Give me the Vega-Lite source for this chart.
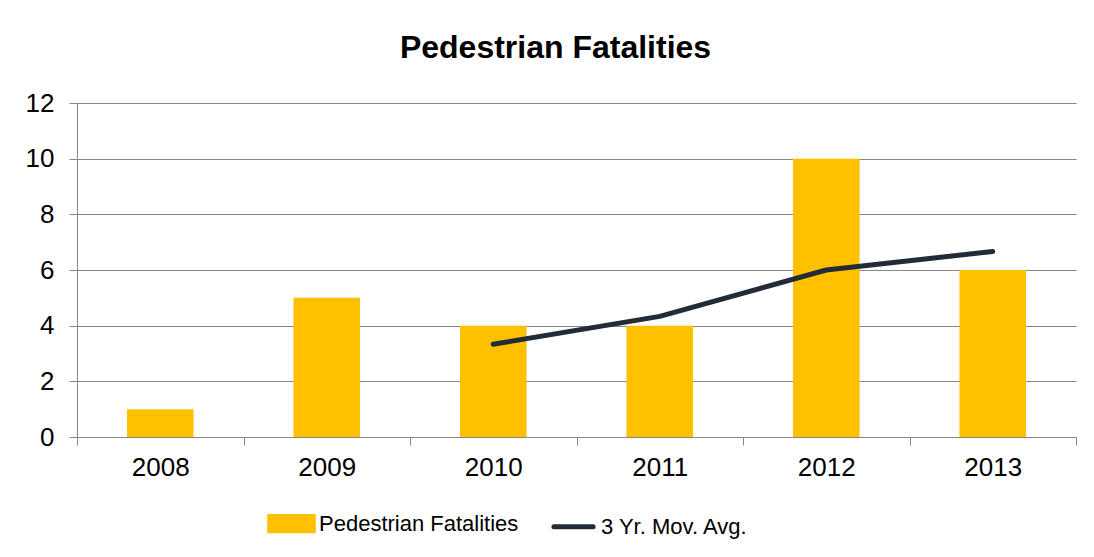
{
  "$schema": "https://vega.github.io/schema/vega-lite/v6.json",
  "autosize": {"type": "none"},
  "width": 999,
  "height": 334,
  "padding": {"left": 77, "top": 103, "right": 18, "bottom": 120},
  "background": "white",
  "config": {
    "font": "Liberation Sans",
    "view": {"stroke": null}
  },
  "title": {
    "text": "Pedestrian Fatalities",
    "fontSize": 32,
    "fontWeight": "bold",
    "color": "#000000",
    "anchor": "middle",
    "frame": "group",
    "dx": -21,
    "offset": 25
  },
  "data": {
    "values": [
      {"year": "2008", "series": "Pedestrian Fatalities", "value": 1},
      {"year": "2009", "series": "Pedestrian Fatalities", "value": 5},
      {"year": "2010", "series": "Pedestrian Fatalities", "value": 4},
      {"year": "2011", "series": "Pedestrian Fatalities", "value": 4},
      {"year": "2012", "series": "Pedestrian Fatalities", "value": 10},
      {"year": "2013", "series": "Pedestrian Fatalities", "value": 6},
      {"year": "2010", "series": "3 Yr. Mov. Avg.", "value": 3.333},
      {"year": "2011", "series": "3 Yr. Mov. Avg.", "value": 4.333},
      {"year": "2012", "series": "3 Yr. Mov. Avg.", "value": 6},
      {"year": "2013", "series": "3 Yr. Mov. Avg.", "value": 6.667}
    ]
  },
  "encoding": {
    "x": {
      "field": "year",
      "type": "ordinal",
      "scale": {"paddingInner": 0, "paddingOuter": 0, "domain": ["2008", "2009", "2010", "2011", "2012", "2013"]},
      "axis": {
        "title": null,
        "labelAngle": 0,
        "labelFontSize": 26,
        "labelColor": "#000000",
        "labelPadding": 9,
        "tickBand": "extent",
        "tickSize": 8,
        "tickColor": "#868686",
        "domainColor": "#868686",
        "grid": false
      }
    },
    "y": {
      "field": "value",
      "type": "quantitative",
      "scale": {"domain": [0, 12], "nice": false},
      "axis": {
        "title": null,
        "values": [0, 2, 4, 6, 8, 10, 12],
        "labelFontSize": 26,
        "labelColor": "#000000",
        "labelPadding": 15,
        "tickSize": 8,
        "tickColor": "#868686",
        "domainColor": "#868686",
        "gridColor": "#868686",
        "grid": true
      }
    },
    "color": {
      "field": "series",
      "type": "nominal",
      "scale": {
        "domain": ["Pedestrian Fatalities", "3 Yr. Mov. Avg."],
        "range": ["#FFC000", "#232B36"]
      },
      "legend": {
        "title": null,
        "orient": "none",
        "legendX": 190,
        "legendY": 396,
        "direction": "horizontal",
        "labelFontSize": 22,
        "labelColor": "#000000",
        "labelLimit": 0,
        "labelOffset": 3,
        "symbolSize": 1900,
        "columnPadding": 24,
        "encode": {
          "symbols": {
            "update": {
              "shape": {"signal": "datum.value === 'Pedestrian Fatalities' ? 'M-1,-0.33H1V0.33H-1Z' : 'M-0.9,0H0.9'"},
              "fill": {"signal": "datum.value === 'Pedestrian Fatalities' ? '#FFC000' : 'transparent'"},
              "stroke": {"signal": "datum.value === 'Pedestrian Fatalities' ? 'transparent' : '#232B36'"},
              "strokeWidth": {"value": 5},
              "strokeCap": {"value": "round"},
              "opacity": {"value": 1},
              "fillOpacity": {"value": 1},
              "strokeOpacity": {"value": 1}
            }
          }
        }
      }
    }
  },
  "layer": [
    {
      "transform": [{"filter": "datum.series === 'Pedestrian Fatalities'"}],
      "mark": {"type": "bar", "width": {"band": 0.4}}
    },
    {
      "transform": [{"filter": "datum.series === '3 Yr. Mov. Avg.'"}],
      "mark": {"type": "line", "strokeWidth": 5, "strokeCap": "round", "strokeJoin": "round"}
    }
  ]
}
